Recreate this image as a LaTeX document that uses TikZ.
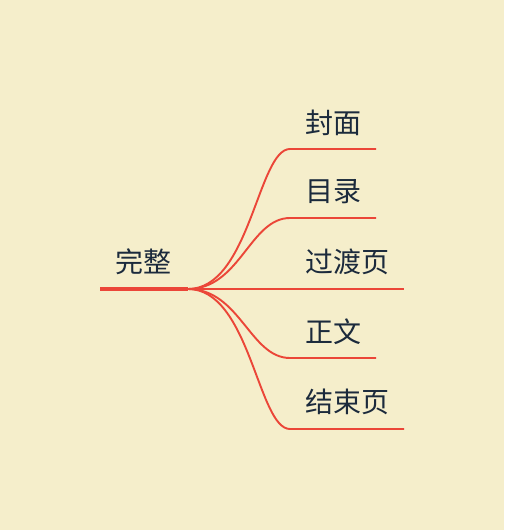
\documentclass[tikz,border=0pt]{standalone}
\usepackage{fontspec}
\newfontfamily\cjk{Noto Sans CJK SC}
\definecolor{bgc}{HTML}{F5EECB}
\definecolor{linec}{HTML}{EB4638}
\definecolor{txtc}{HTML}{1B2A3C}
\begin{document}
\begin{tikzpicture}[x=1pt,y=-1pt,
  lbl/.style={anchor=west,inner sep=0pt,font=\cjk\fontsize{28}{32}\selectfont,text=txtc},
  branch/.style={draw=linec,line width=1.9pt},
  rootline/.style={draw=linec,line width=3.4pt}]
\fill[bgc] (0,0) rectangle (504,530);
\useasboundingbox (0,0) rectangle (504,530);
% root
\node[lbl] (root) at (115,262) {完整};
\coordinate (rs) at (100,289);
\coordinate (re) at (188,289);
\draw[rootline] (rs) -- (re);
% children
\node[lbl] (c1) at (305,123) {封面};
\node[lbl] (c2) at (305,192) {目录};
\node[lbl] (c3) at (305,262) {过渡页};
\node[lbl] (c4) at (305,332) {正文};
\node[lbl] (c5) at (305,402) {结束页};
\coordinate (a1) at (290,149); \coordinate (b1) at (376,149);
\coordinate (a2) at (290,218); \coordinate (b2) at (376,218);
\coordinate (b3) at (404,289);
\coordinate (a4) at (290,358); \coordinate (b4) at (376,358);
\coordinate (a5) at (290,429); \coordinate (b5) at (404,429);
\draw[branch] (re) .. controls (250,289) and (258,149) .. (a1) -- (b1);
\draw[branch] (re) .. controls (240,289) and (250,218) .. (a2) -- (b2);
\draw[branch] (re) -- (b3);
\draw[branch] (re) .. controls (240,289) and (250,358) .. (a4) -- (b4);
\draw[branch] (re) .. controls (250,289) and (258,429) .. (a5) -- (b5);
\end{tikzpicture}
\end{document}
